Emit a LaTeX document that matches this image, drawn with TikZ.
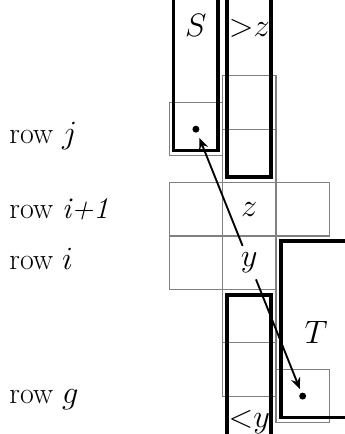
\documentclass[tikz,border=0pt]{standalone}
\usepackage{amsmath}
\usepackage{amssymb}
\usepackage{tikz}
\usetikzlibrary{arrows.meta,positioning,calc}

\begin{document}
\begin{tikzpicture}[
  cell/.style={draw=gray, line width=0.6pt},
  wall/.style={line width=2pt},
  rowlabel/.style={anchor=base west, font=\fontsize{16}{19}\selectfont, inner sep=0pt},
  lbl/.style={font=\fontsize{16}{19}\selectfont},
  pt/.style={circle, fill, inner sep=0pt, minimum size=0.13cm},
  link/.style={-{Stealth[length=6pt,width=5pt]}, line width=1pt}
]

\useasboundingbox (-3.17,-2.71) rectangle (3.29,5.42);

\node[rowlabel] (rj) at (-3.0,2.74) {row $j$};
\node[rowlabel] (ri1) at (-3.0,1.33) {row \textit{i+1}};
\node[rowlabel] (ri) at (-3.0,0.37) {row $i$};
\node[rowlabel] (rg) at (-3.0,-2.13) {row $g$};

\begin{scope}
\clip (-3.17,-2.71) rectangle (3.29,5.42);

\foreach \x/\y in {1/3,1/2,0/1,1/1,2/1,0/0,1/0,1/-1,1/-2}
  \draw[cell] (\x,\y) rectangle ++(1,1);
\draw[cell] (0,2.5) rectangle ++(1,1);
\draw[cell] (2,-2.5) rectangle ++(1,1);

\draw[wall] (0.08,6) -- (0.08,2.6) -- (0.92,2.6) -- (0.92,6);
\draw[wall] (1.08,6) -- (1.08,2.1) -- (1.91,2.1) -- (1.91,6);
\draw[wall] (1.08,-3) -- (1.08,-0.1) -- (1.91,-0.1) -- (1.91,-3);
\draw[wall] (4,0.9) -- (2.1,0.9) -- (2.1,-2.4) -- (4,-2.4);

\node[lbl, anchor=base] (S) at (0.5,4.73) {$S$};
\node[lbl, anchor=base] (gtz) at (1.5,4.73) {${>}z$};
\node[lbl, anchor=base] (lty) at (1.5,-2.58) {${<}y$};
\node[lbl] (T) at (2.75,-0.8) {$T$};
\node[lbl] (z) at (1.5,1.5) {$z$};
\node[lbl] (y) at (1.5,0.5) {$y$};

\node[pt] (dj) at (0.5,3) {};
\node[pt] (dg) at (2.5,-2) {};

\draw[link, shorten >=3pt] (y) -- (dj);
\draw[link, shorten >=2pt] (y) -- (dg);
\end{scope}

\end{tikzpicture}
\end{document}
